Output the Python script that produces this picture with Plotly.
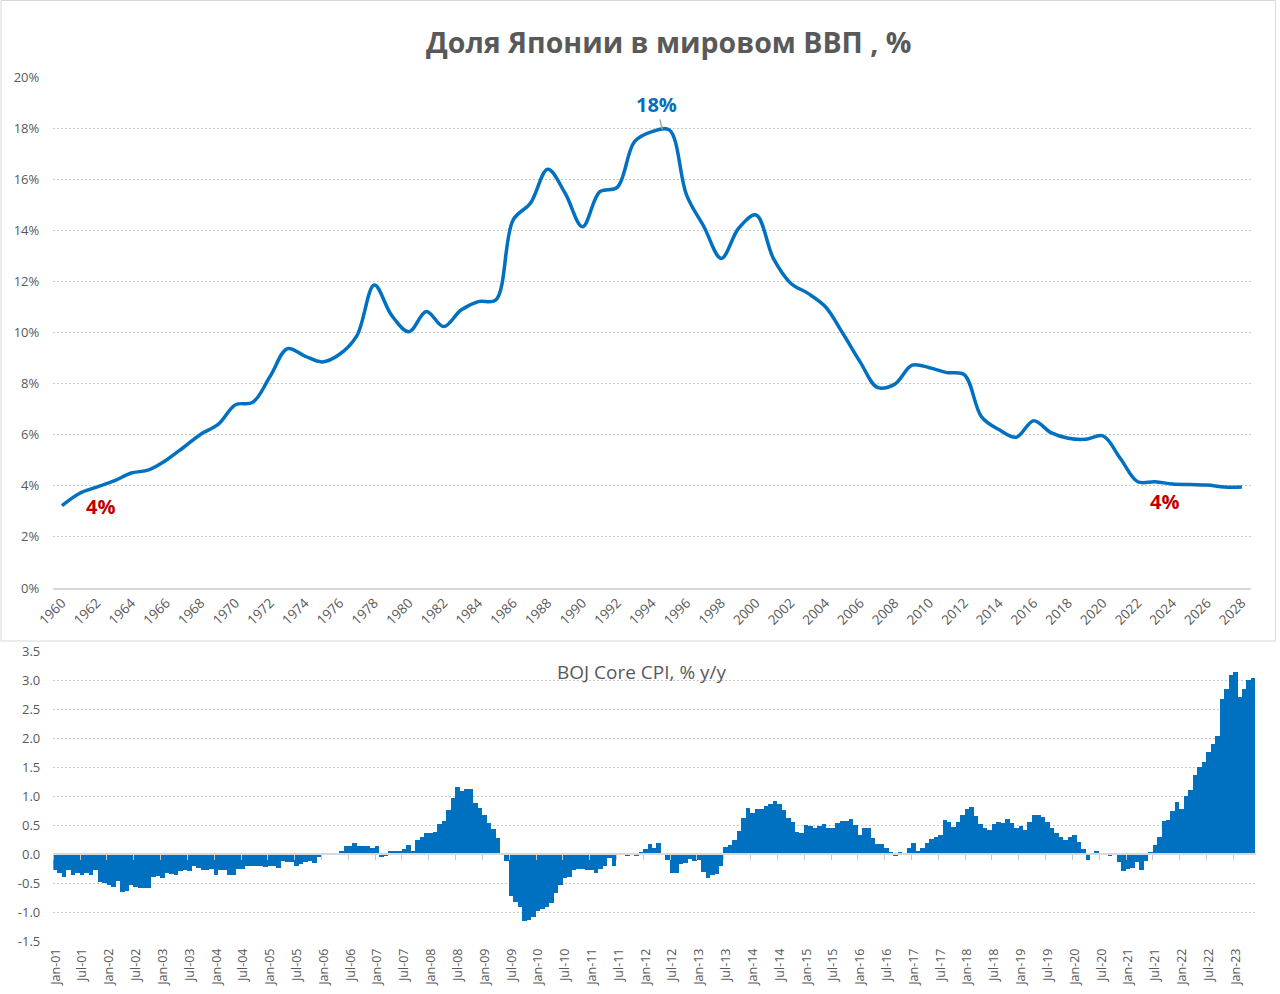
import plotly.graph_objects as go
import pandas as pd

# ---------------- data ----------------
years = list(range(1960, 2029))
gdp_share = [
    3.22, 3.70, 3.95, 4.19, 4.50, 4.62, 5.00, 5.50, 6.02, 6.40,
    7.17, 7.27, 8.29, 9.37, 9.08, 8.85, 9.15, 9.88, 11.86, 10.67,
    10.03, 10.82, 10.23, 10.88, 11.21, 11.27, 14.40, 15.06, 16.39, 15.45,
    14.14, 15.51, 15.68, 17.47, 17.86, 17.93, 15.38, 14.14, 12.90, 14.08,
    14.60, 12.90, 11.93, 11.53, 11.01, 9.97, 8.85, 7.85, 7.98, 8.72,
    8.62, 8.43, 8.35, 6.70, 6.20, 5.90, 6.55, 6.08, 5.86, 5.82,
    5.95, 5.07, 4.16, 4.16, 4.07, 4.05, 4.03, 3.95, 3.95,
]
year_ticks = years[::2]

cpi = [
    -0.27, -0.33, -0.40, -0.27, -0.36, -0.33, -0.36, -0.32, -0.36, -0.27, -0.49, -0.50,  # 2001
    -0.53, -0.57, -0.46, -0.65, -0.63, -0.53, -0.57, -0.59, -0.59, -0.59, -0.39, -0.38,  # 2002
    -0.42, -0.33, -0.34, -0.36, -0.30, -0.27, -0.30, -0.21, -0.24, -0.27, -0.27, -0.26,  # 2003
    -0.36, -0.27, -0.28, -0.36, -0.36, -0.26, -0.26, -0.21, -0.21, -0.20, -0.21, -0.23,  # 2004
    -0.20, -0.21, -0.24, -0.12, -0.14, -0.13, -0.20, -0.17, -0.14, -0.12, -0.16, -0.06,  # 2005
    -0.01, 0.00, 0.00, 0.00, 0.05, 0.13, 0.13, 0.19, 0.14, 0.14, 0.14, 0.10,            # 2006
    0.13, -0.05, -0.04, 0.06, 0.06, 0.06, 0.09, 0.15, 0.05, 0.24, 0.29, 0.37,           # 2007
    0.37, 0.38, 0.51, 0.57, 0.76, 0.96, 1.15, 1.08, 1.12, 1.12, 0.88, 0.80,             # 2008
    0.68, 0.54, 0.43, 0.27, 0.00, -0.12, -0.72, -0.82, -0.91, -1.16, -1.14, -1.09,      # 2009
    -0.98, -0.95, -0.91, -0.85, -0.67, -0.53, -0.42, -0.39, -0.27, -0.26, -0.26, -0.28, # 2010
    -0.28, -0.33, -0.26, -0.20, -0.07, -0.20, 0.00, 0.00, -0.04, 0.00, -0.02, 0.03,     # 2011
    0.09, 0.18, 0.10, 0.19, -0.01, -0.11, -0.33, -0.33, -0.18, -0.15, -0.09, -0.12,     # 2012
    -0.10, -0.31, -0.41, -0.37, -0.34, -0.20, 0.12, 0.15, 0.25, 0.39, 0.62, 0.80,       # 2013
    0.70, 0.78, 0.78, 0.82, 0.87, 0.91, 0.86, 0.76, 0.62, 0.55, 0.38, 0.37,             # 2014
    0.50, 0.48, 0.45, 0.48, 0.51, 0.45, 0.45, 0.53, 0.57, 0.57, 0.61, 0.50,             # 2015
    0.33, 0.45, 0.45, 0.27, 0.18, 0.18, 0.10, 0.03, -0.04, 0.02, 0.00, 0.10,            # 2016
    0.19, 0.06, 0.10, 0.19, 0.26, 0.29, 0.33, 0.58, 0.55, 0.47, 0.55, 0.68,             # 2017
    0.77, 0.81, 0.66, 0.52, 0.45, 0.42, 0.51, 0.55, 0.54, 0.61, 0.54, 0.44,             # 2018
    0.48, 0.41, 0.55, 0.68, 0.68, 0.64, 0.55, 0.45, 0.36, 0.30, 0.25, 0.29,             # 2019
    0.33, 0.20, 0.08, -0.10, 0.00, 0.05, 0.00, 0.00, -0.03, 0.00, -0.13, -0.30,         # 2020
    -0.26, -0.24, -0.13, -0.27, -0.12, 0.03, 0.16, 0.30, 0.57, 0.59, 0.75, 0.89,        # 2021
    0.77, 1.00, 1.11, 1.37, 1.50, 1.59, 1.76, 1.89, 2.04, 2.68, 2.84, 3.08,             # 2022
    3.13, 2.70, 2.85, 3.00, 3.04,                                                       # 2023
]
months = list(pd.date_range("2001-01-01", periods=len(cpi), freq="MS").strftime("%b-%y"))
month_ticks = months[::6]
cpi_ticks = [-1.5, -1.0, -0.5, 0.0, 0.5, 1.0, 1.5, 2.0, 2.5, 3.0, 3.5]
cpi_tick_text = [f"{v:.1f}" for v in cpi_ticks]

# ---------------- layout helpers ----------------
W, H = 1280, 994
def px(x):
    return x / W
def py(y):
    return 1 - y / H

BLUE = "#0070C0"
GREY = "#595959"
GRID = "#c8c8c8"
DASH = "2px,2px"
FONT = "Open Sans"

fig = go.Figure()

fig.add_trace(go.Scatter(
    x=years, y=gdp_share, mode="lines",
    line=dict(color=BLUE, width=3.5, shape="spline", smoothing=1.0),
    xaxis="x", yaxis="y", showlegend=False, hoverinfo="x+y",
))

fig.add_trace(go.Bar(
    x=months, y=cpi, marker=dict(color=BLUE, line=dict(width=0)),
    xaxis="x2", yaxis="y2", showlegend=False,
))

# invisible trace to activate the tick axis at zero
fig.add_trace(go.Scatter(
    x=[0], y=[0], mode="markers", marker=dict(opacity=0),
    xaxis="x3", yaxis="y2", showlegend=False, hoverinfo="skip",
))

tickfont = dict(family=FONT, size=13, color=GREY)

fig.update_layout(
    width=W, height=H, template="none",
    margin=dict(l=0, r=0, t=0, b=0),
    paper_bgcolor="white", plot_bgcolor="white",
    bargap=0,
    font=dict(family=FONT, color=GREY),
    xaxis=dict(
        domain=[px(53.3), px(1250.5)], anchor="y",
        range=[1959.5, 2028.5], tickmode="array", tickvals=year_ticks,
        tickangle=-45, tickfont=dict(family=FONT, size=13.5, color=GREY), showgrid=False,
        showline=True, linecolor="#d9d9d9", linewidth=1.5,
        ticks="", zeroline=False, automargin=False,
    ),
    yaxis=dict(
        domain=[py(588), py(77)], anchor="x",
        range=[0, 20], dtick=2, ticksuffix="%",
        tickfont=tickfont, showgrid=True, gridcolor=GRID, griddash=DASH,
        gridwidth=1, zeroline=False, showline=False, ticks="",
        ticklabelstandoff=13, automargin=False,
    ),
    xaxis2=dict(
        domain=[px(53.3), px(1255.7)], anchor="y2", type="category",
        range=[-0.5, len(cpi) - 0.5],
        tickmode="array", tickvals=month_ticks, ticktext=month_ticks,
        tickangle=-90, tickfont=dict(family=FONT, size=12.5, color=GREY),
        showgrid=False, showline=False, ticks="", zeroline=False,
        automargin=False, ticklabelstandoff=4,
    ),
    yaxis2=dict(
        domain=[py(941), py(651)], anchor="x2",
        range=[-1.5, 3.5], tickmode="array", tickvals=cpi_ticks,
        ticktext=cpi_tick_text, tickfont=tickfont,
        showgrid=True, gridcolor=GRID, griddash=DASH, gridwidth=1,
        zeroline=False, showline=False, ticks="", ticklabelstandoff=12,
        automargin=False,
    ),
    xaxis3=dict(
        overlaying="x2", anchor="free", position=py(854.3), type="linear",
        range=[-0.5, len(cpi) - 0.5],
        tickmode="array", tickvals=[i - 0.5 for i in range(0, len(cpi), 6)],
        ticks="outside", ticklen=5, tickcolor="#c8c8c8", tickwidth=1,
        showticklabels=False, showline=True, linecolor="#d9d9d9", linewidth=1.5,
        showgrid=False, zeroline=False, automargin=False,
    ),
)

annotations = [
    dict(text="<b>Доля Японии в мировом ВВП , %</b>", xref="paper", yref="paper",
         x=px(668), y=py(42), xanchor="center", yanchor="middle", showarrow=False,
         font=dict(family=FONT, size=28.5, color=GREY)),
    dict(text="BOJ Core CPI, % y/y", xref="paper", yref="paper",
         x=px(642), y=py(672), xanchor="center", yanchor="middle", showarrow=False,
         font=dict(family=FONT, size=19, color=GREY)),
    dict(text="<b>4%</b>", xref="x", yref="y", x=1962.2, y=3.2,
         xanchor="center", yanchor="middle", showarrow=False,
         font=dict(family=FONT, size=20, color="#C00000")),
    dict(text="<b>4%</b>", xref="x", yref="y", x=2023.55, y=3.4,
         xanchor="center", yanchor="middle", showarrow=False,
         font=dict(family=FONT, size=20, color="#C00000")),
    dict(text="<b>18%</b>", xref="x", yref="y", x=1994.6, y=17.95,
         ax=-6, ay=-25, showarrow=True, arrowhead=0, arrowwidth=1.5,
         arrowcolor="#a6a6a6", standoff=0,
         font=dict(family=FONT, size=20, color=BLUE)),
]
fig.update_layout(annotations=annotations)

fig.add_shape(type="rect", xref="paper", yref="paper",
              x0=px(1), x1=px(1275.5), y0=py(641), y1=py(0.5),
              line=dict(color="#d9d9d9", width=1), fillcolor="rgba(0,0,0,0)", layer="below")

fig.write_html("out.html")
